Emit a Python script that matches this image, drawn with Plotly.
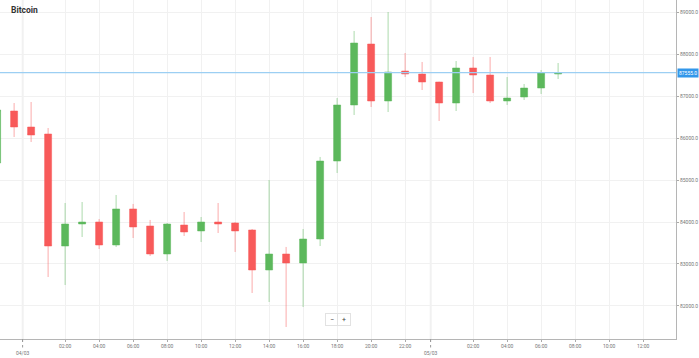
import plotly.graph_objects as go
from datetime import datetime, timedelta

# Hourly candles, hours relative to 04/03 00:00
hours = list(range(-2, 32))
opens = [85405, 86643, 86262, 86095, 83428, 83952, 84000, 83452, 84310, 83905,
         83238, 83928, 83786, 84000, 83976, 83810, 82857, 83238, 83024, 83595,
         85452, 86786, 88238, 86881, 87595, 87524, 87333, 86833, 87667, 87500,
         86881, 86976, 87190, 87524]
highs = [86810, 86833, 86857, 86238, 84452, 84476, 84071, 84643, 84429, 84048,
         83976, 84238, 84119, 84452, 84000, 83833, 85000, 83405, 83833, 85548,
         86952, 88548, 88881, 89000, 88024, 87810, 87340, 87833, 87929, 87929,
         87452, 87286, 87619, 87786]
lows = [85286, 86024, 85905, 82690, 82500, 83643, 83357, 83405, 83619, 83190,
        83071, 83667, 83524, 83738, 83286, 82310, 82095, 81500, 81976, 83428,
        85167, 86548, 86738, 86619, 87452, 87143, 86405, 86643, 87071, 86833,
        86786, 86905, 87048, 87405]
closes = [86667, 86262, 86071, 83428, 83952, 84000, 83452, 84310, 83881, 83238,
          83952, 83762, 84000, 83952, 83786, 82857, 83238, 83024, 83595, 85452,
          86786, 88262, 86881, 87571, 87524, 87333, 86833, 87667, 87500, 86881,
          86952, 87190, 87548, 87555]

y_ticks = [82000, 83000, 84000, 85000, 86000, 87000, 88000, 89000]
y_tick_labels = ["82000.0", "83000.0", "84000.0", "85000.0", "86000.0", "87000.0", "88000.0", "89000.0"]
hour_ticks = [2, 4, 6, 8, 10, 12, 14, 16, 18, 20, 22, 26, 28, 30, 32, 34, 36]
hour_labels = ["02:00", "04:00", "06:00", "08:00", "10:00", "12:00", "14:00", "16:00", "18:00",
               "20:00", "22:00", "02:00", "04:00", "06:00", "08:00", "10:00", "12:00"]
date_ticks = [-0.5, 23.5]
date_labels = ["04/03", "05/03"]
last_price = closes[-1]

base = datetime(2025, 3, 4, 0, 0)
def t(h):
    return base + timedelta(hours=h)

GREEN = "#5cb85c"
RED = "#f85a5a"

fig = go.Figure()
fig.add_trace(go.Candlestick(
    x=[t(h) for h in hours], open=opens, high=highs, low=lows, close=closes,
    increasing=dict(fillcolor=GREEN, line=dict(color="rgba(92,184,92,0.5)", width=1)),
    decreasing=dict(fillcolor=RED, line=dict(color="rgba(248,90,90,0.5)", width=1)),
    whiskerwidth=0, showlegend=False,
))

tickvals = [t(h) for h in hour_ticks] + [t(h) for h in date_ticks]
ticktext = hour_labels + ["<br>" + d for d in date_labels]

shapes = []
for h in date_ticks:
    shapes.append(dict(type="line", xref="x", yref="paper", x0=t(h), x1=t(h), y0=0, y1=1,
                       line=dict(color="#e4e4e4", width=1.5), layer="below"))
    shapes.append(dict(type="line", xref="x", yref="paper", x0=t(h), x1=t(h), y0=0, y1=-0.025,
                       line=dict(color="#999", width=1, dash="dot")))
shapes.append(dict(type="line", xref="paper", yref="y", x0=0, x1=1, y0=last_price, y1=last_price,
                   line=dict(color="#9ccff3", width=1.2)))

annotations = [
    dict(text="<b>Bitcoin</b>", xref="paper", yref="paper", x=9/676, y=1 - 10/339,
         xanchor="left", yanchor="middle", showarrow=False,
         font=dict(family="Roboto", size=8.5, color="#333")),
    dict(text=f"{last_price:.1f}", xref="paper", yref="y", x=1, y=last_price, xshift=1,
         xanchor="left", yanchor="middle", showarrow=False, bgcolor="#3397ea",
         borderpad=1, font=dict(family="Roboto", size=5, color="white")),
    dict(text="−", xref="paper", yref="paper", x=332/676, y=1 - 319/339, showarrow=False,
         xanchor="center", yanchor="middle", width=10, height=9, bgcolor="white",
         bordercolor="#e2e2e2", borderwidth=1, font=dict(family="Roboto", size=7, color="#444")),
    dict(text="+", xref="paper", yref="paper", x=344/676, y=1 - 319/339, showarrow=False,
         xanchor="center", yanchor="middle", width=10, height=9, bgcolor="white",
         bordercolor="#e2e2e2", borderwidth=1, font=dict(family="Roboto", size=7, color="#444")),
]

fig.update_layout(
    width=699, height=358,
    margin=dict(l=0, r=23, t=0, b=19),
    paper_bgcolor="white", plot_bgcolor="white",
    boxgap=0.41,
    shapes=shapes, annotations=annotations,
    xaxis=dict(
        type="date", range=[t(-1.83), t(37.935)], rangeslider=dict(visible=False),
        tickvals=tickvals, ticktext=ticktext, ticks="outside", ticklen=2, tickcolor="#aaa",
        showgrid=True, gridcolor="#f1f1f1", gridwidth=1,
        showline=True, linecolor="#b5b5b5", linewidth=1,
        tickfont=dict(family="Roboto", size=5, color="#777"), zeroline=False,
        automargin=False,
    ),
    yaxis=dict(
        side="right", range=[81214, 89286], tickvals=y_ticks, ticktext=y_tick_labels,
        ticks="outside", ticklen=2, tickcolor="#aaa",
        showgrid=True, gridcolor="#f1f1f1", gridwidth=1,
        showline=True, linecolor="#b5b5b5", linewidth=1, mirror=False,
        tickfont=dict(family="Roboto", size=5, color="#777"), zeroline=False,
        automargin=False,
    ),
)

fig.write_html(
    "out.html",
    config={"displayModeBar": False},
    post_script="document.body.style.margin='0';document.body.style.padding='0';document.body.style.overflow='hidden';",
)
